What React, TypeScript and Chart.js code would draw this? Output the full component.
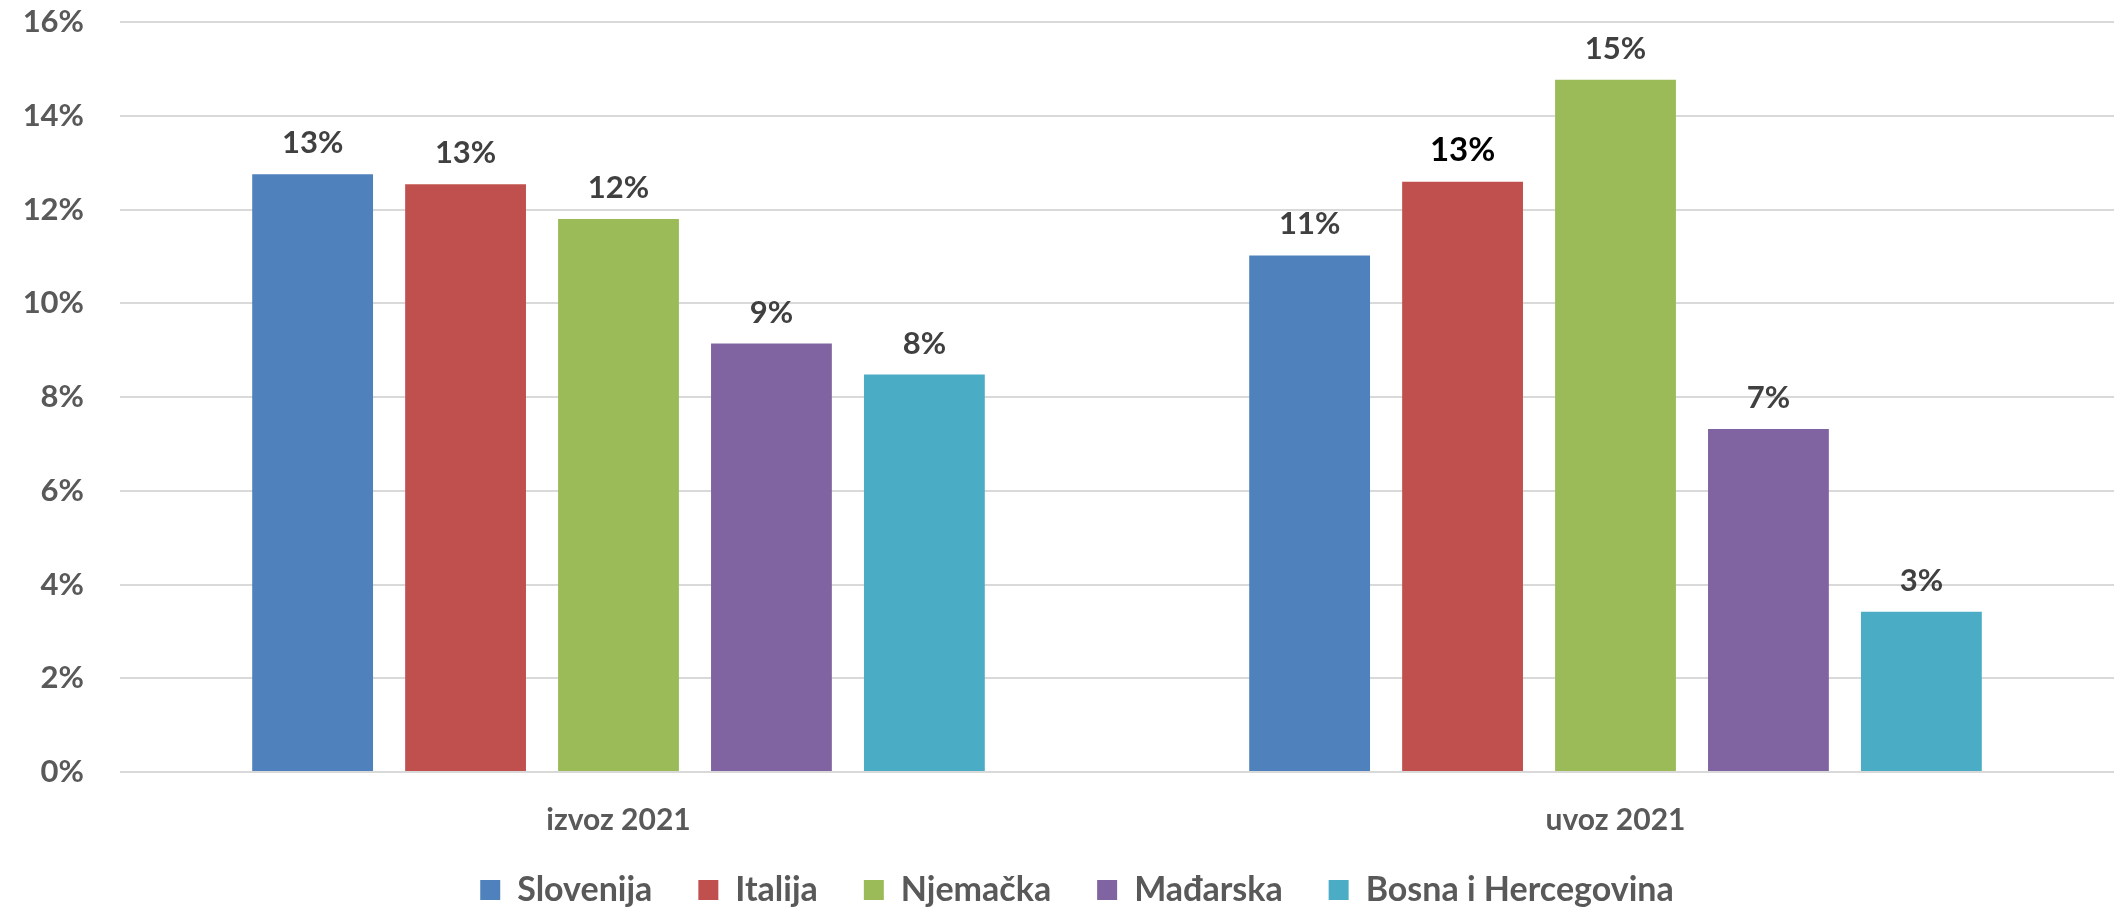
import React, { useEffect, useRef } from 'react';
import { Chart, registerables } from 'chart.js';

Chart.register(...registerables);

const categories = ['izvoz 2021', 'uvoz 2021'];
const seriesNames = ['Slovenija', 'Italija', 'Njemačka', 'Mađarska', 'Bosna i Hercegovina'];
const slovenija = [12.75, 11.02];
const italija = [12.54, 12.59];
const njemacka = [11.8, 14.77];
const madarska = [9.14, 7.32];
const bosna = [8.48, 3.42];
const yMin = 0;
const yMax = 16;
const yStep = 2;

const seriesValues = [slovenija, italija, njemacka, madarska, bosna];
const seriesColors = ['#4F81BD', '#C0504D', '#9BBB59', '#8064A2', '#4BACC6'];
const FONT = "Lato, 'Open Sans', sans-serif";
const emphasized = { dataset: 1, index: 1 };
const LEGEND_H = 68;
const LEGEND_SHIFT = 13;
const LEGEND_XSHIFT = 20;
const XAXIS_H = 68;

const valueLabelPlugin = {
  id: 'valueLabels',
  afterDatasetsDraw(chart: any) {
    const ctx = chart.ctx;
    ctx.save();
    ctx.textAlign = 'center';
    ctx.textBaseline = 'alphabetic';
    chart.data.datasets.forEach((ds: any, di: number) => {
      const meta = chart.getDatasetMeta(di);
      meta.data.forEach((el: any, i: number) => {
        const v = ds.data[i];
        const isEm = di === emphasized.dataset && i === emphasized.index;
        ctx.font = `bold ${isEm ? 33 : 31}px ${FONT}`;
        ctx.fillStyle = isEm ? '#000000' : '#404040';
        ctx.fillText(Math.round(v) + '%', el.x, el.y - 21);
      });
    });
    ctx.restore();
  },
};

const legendPatchPlugin = {
  id: 'legendPatch',
  beforeLayout(chart: any) {
    const lg = chart.legend;
    if (lg && !lg.__patched) {
      const orig = lg.fit;
      lg.fit = function () {
        orig.call(this);
        this.height = LEGEND_H;
      };
      lg.__patched = true;
    }
  },
  afterLayout(chart: any) {
    const lg = chart.legend;
    if (lg) {
      lg.top -= LEGEND_SHIFT;
      lg.bottom = chart.height;
      lg.left += LEGEND_XSHIFT;
      lg.right += LEGEND_XSHIFT;
    }
  },
};

export default function App() {
  const ref = useRef<HTMLCanvasElement>(null);
  useEffect(() => {
    if (!ref.current) return;
    const chart = new Chart(ref.current, {
      type: 'bar',
      data: {
        labels: categories,
        datasets: seriesNames.map((name, i) => ({
          label: name,
          data: seriesValues[i],
          backgroundColor: seriesColors[i],
          borderWidth: 0,
          categoryPercentage: 0.767,
          barPercentage: 0.79,
        })),
      },
      options: {
        animation: false,
        responsive: true,
        maintainAspectRatio: false,
        layout: { padding: { top: 22, right: 7, left: 0, bottom: 0 } },
        plugins: {
          legend: {
            position: 'bottom',
            labels: {
              font: { family: FONT, size: 34, weight: 'bold' },
              color: '#595959',
              boxWidth: 20,
              boxHeight: 20,
              padding: 46,
            },
          },
          tooltip: { enabled: false },
        },
        scales: {
          x: {
            grid: { display: false, drawTicks: false },
            border: { display: false },
            afterFit: (s: any) => {
              s.height = XAXIS_H;
            },
            ticks: {
              font: { family: FONT, size: 30, weight: 'bold' },
              color: '#595959',
              padding: 30,
            },
          },
          y: {
            min: yMin,
            max: yMax,
            grid: { color: '#d9d9d9', lineWidth: 2, drawTicks: false },
            border: { display: false },
            afterFit: (s: any) => {
              s.width = 120;
              s.paddingTop = 0;
              s.paddingBottom = 0;
            },
            ticks: {
              stepSize: yStep,
              padding: 36,
              font: { family: FONT, size: 31, weight: 'bold' },
              color: '#595959',
              callback: (v: any) => v + '%',
            },
          },
        },
      },
      plugins: [valueLabelPlugin, legendPatchPlugin],
    });
    return () => chart.destroy();
  }, []);
  return (
    <div style={{ position: 'absolute', left: 0, top: 0, width: 2121, height: 908 }}>
      <canvas ref={ref} />
    </div>
  );
}
